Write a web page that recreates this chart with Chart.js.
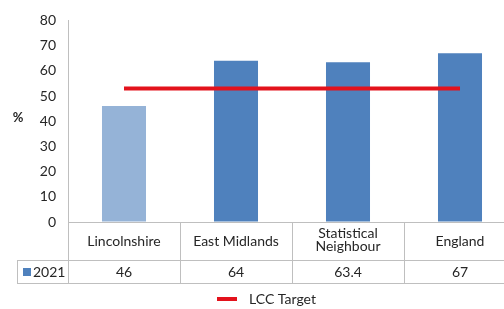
<!DOCTYPE html>
<html>
<head>
<meta charset="utf-8">
<script src="https://cdn.jsdelivr.net/npm/chart.js@4/dist/chart.umd.min.js"></script>
<style>
  html, body { margin: 0; padding: 0; background: #ffffff; overflow: hidden; width: 504px; height: 309px; }
  canvas { display: block; }
</style>
</head>
<body>
<canvas id="c" width="520" height="309"></canvas>
<script>
// ---- data ----
const categories = ['Lincolnshire', 'East Midlands', ['Statistical', 'Neighbour'], 'England'];
const seriesName = '2021';
const values2021 = [46, 64, 63.4, 67];
const targetName = 'LCC Target';
const targetValues = [53, 53, 53, 53];
const yMin = 0, yMax = 80, yStep = 10;
const yAxisLabel = '%';

// ---- styles ----
const FONT = 'Lato, "Open Sans", sans-serif';
const TEXT = '#262626';
const GRID = '#bfbfbf';
const barColors = ['#95B3D7', '#4F81BD', '#4F81BD', '#4F81BD'];
const seriesColor = '#4F81BD';
const targetColor = '#E3121C';

const tablePlugin = {
  id: 'dataTable',
  afterDraw(chart) {
    const { ctx, chartArea: a, scales: { x } } = chart;
    const n = categories.length;
    const w = (a.right - a.left) / n;
    const top = Math.round(a.bottom), mid = 260, bot = 283, left0 = 17;
    const rightEdge = chart.width;
    ctx.save();
    ctx.strokeStyle = GRID;
    ctx.lineWidth = 1;
    const h = (x1, x2, y) => { ctx.beginPath(); ctx.moveTo(x1, y + 0.5); ctx.lineTo(x2, y + 0.5); ctx.stroke(); };
    const v = (xx, y1, y2) => { ctx.beginPath(); ctx.moveTo(xx + 0.5, y1); ctx.lineTo(xx + 0.5, y2); ctx.stroke(); };
    h(a.left, rightEdge, top);
    h(left0, rightEdge, mid);
    h(left0, rightEdge, bot);
    v(left0, mid, bot + 1);
    for (let i = 0; i <= n; i++) {
      const xx = Math.round(x.getPixelForValue(0) - w / 2 + i * w);
      v(i === 0 ? Math.round(a.left) : xx, top, bot + 1);
    }
    ctx.fillStyle = TEXT;
    ctx.font = '14px ' + FONT;
    ctx.textAlign = 'center';
    ctx.textBaseline = 'middle';
    categories.forEach((c, i) => {
      const cx = x.getPixelForValue(i);
      if (Array.isArray(c)) {
        ctx.fillText(c[0], cx, 233);
        ctx.fillText(c[1], cx, 246);
      } else {
        ctx.fillText(c, cx, 241);
      }
      ctx.fillText(String(values2021[i]), cx, 272);
    });
    // series key in table
    ctx.fillStyle = seriesColor;
    ctx.fillRect(23, 268, 8, 8);
    ctx.fillStyle = TEXT;
    ctx.textAlign = 'left';
    ctx.fillText(seriesName, 33, 272);
    // % label
    ctx.textAlign = 'center';
    ctx.font = 'bold 13px ' + FONT;
    ctx.fillText(yAxisLabel, 18, 118);
    // legend
    ctx.strokeStyle = targetColor;
    ctx.lineWidth = 4;
    ctx.beginPath(); ctx.moveTo(217, 299); ctx.lineTo(237, 299); ctx.stroke();
    ctx.font = '14px ' + FONT;
    ctx.textAlign = 'left';
    ctx.fillStyle = TEXT;
    ctx.fillText(targetName, 249, 299);
    ctx.restore();
  }
};

new Chart(document.getElementById('c'), {
  type: 'bar',
  data: {
    labels: categories,
    datasets: [
      {
        type: 'line',
        label: targetName,
        data: targetValues,
        borderColor: targetColor,
        backgroundColor: targetColor,
        borderWidth: 4,
        pointRadius: 0,
        tension: 0,
        order: 0
      },
      {
        type: 'bar',
        label: seriesName,
        data: values2021,
        backgroundColor: barColors,
        borderWidth: 0,
        categoryPercentage: 1,
        barPercentage: 0.393,
        order: 1
      }
    ]
  },
  options: {
    responsive: false,
    animation: false,
    layout: { padding: { left: 0, top: 17, right: 4, bottom: 87 } },
    plugins: { legend: { display: false }, tooltip: { enabled: false } },
    scales: {
      x: { display: false },
      y: {
        min: yMin, max: yMax,
        ticks: { stepSize: yStep, padding: 12, color: TEXT, font: { family: FONT, size: 14 } },
        grid: { drawOnChartArea: false, drawTicks: false },
        border: { display: true, color: GRID, width: 1 },
        afterFit(scale) { scale.width = 68; }
      }
    }
  },
  plugins: [tablePlugin]
});
</script>
</body>
</html>
